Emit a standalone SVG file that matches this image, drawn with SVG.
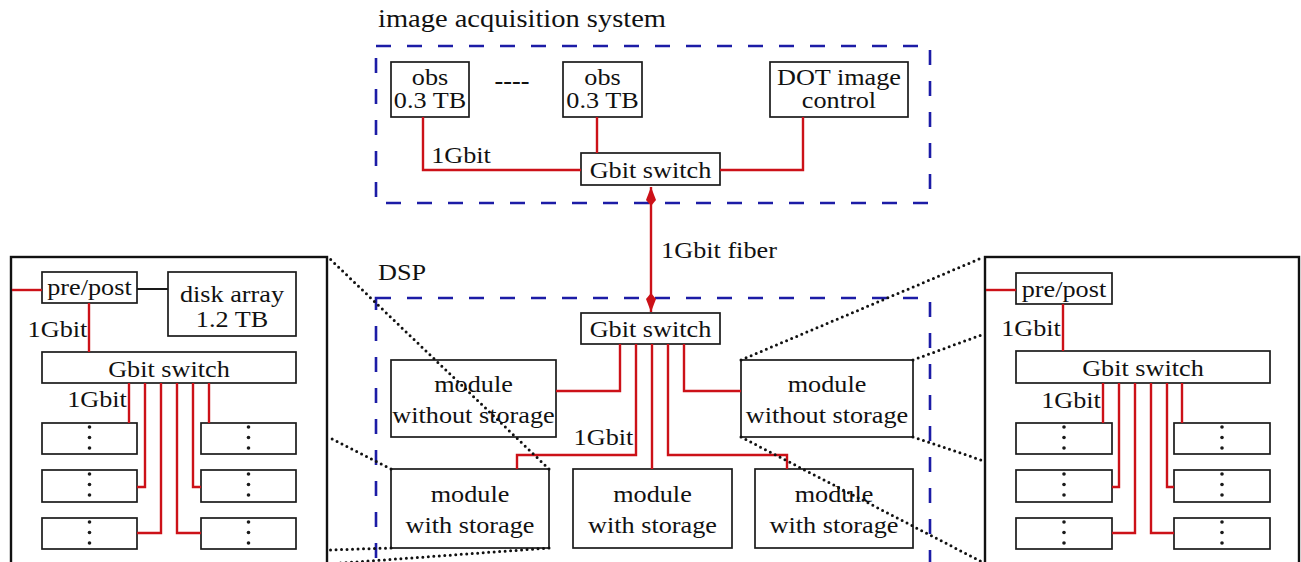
<svg xmlns="http://www.w3.org/2000/svg" width="1301" height="562" viewBox="0 0 1301 562">
  <style>
    .box { fill: #fff; stroke: #1a1a1a; stroke-width: 1.7; }
    .frame { fill: none; stroke: #111; stroke-width: 2.4; }
    .dash { fill: none; stroke: #1c1ca6; stroke-width: 2.6; stroke-dasharray: 15 16; }
    .link { fill: none; stroke: #cc1118; stroke-width: 2.4; }
    .blk { fill: none; stroke: #1a1a1a; stroke-width: 2; }
    .zoom { fill: none; stroke: #111; stroke-width: 3; stroke-linecap: round; stroke-dasharray: 0 5.5; }
    .t { font-family: "Liberation Serif", "Times New Roman", serif; font-size: 23px; fill: #111; text-anchor: middle;
         transform: scaleX(1.14); transform-box: fill-box; transform-origin: center; }
    .big { font-size: 25px; }
    .vd { fill: #1a1a1a; }
  </style>
  <defs>
    <marker id="kite" viewBox="-20 -6 21 12" refX="0" refY="0" markerWidth="21" markerHeight="12" markerUnits="userSpaceOnUse" orient="auto-start-reverse">
      <path d="M0,0 L-13,-5 L-19,0 L-13,5 Z" fill="#cc1118"/>
    </marker>
    <g id="vdots">
      <circle class="vd" cx="0" cy="4" r="1.8"/>
      <circle class="vd" cx="0" cy="14.5" r="1.8"/>
      <circle class="vd" cx="0" cy="25" r="1.8"/>
    </g>
  </defs>

  <rect width="1301" height="562" fill="#fff"/>

  <!-- image acquisition system -->
  <g id="acquisition">
    <text class="t big" x="522" y="27">image acquisition system</text>
    <rect class="dash" x="376" y="46" width="554" height="157"/>
  </g>
  <g id="obs1">
    <rect class="box" x="391" y="62" width="78" height="55"/>
    <text class="t" x="430" y="85">obs</text>
    <text class="t" x="430" y="108">0.3 TB</text>
  </g>
  <g id="obs-ellipsis">
    <text class="t" x="512" y="89" font-weight="bold" font-size="26">----</text>
  </g>
  <g id="obs2">
    <rect class="box" x="563" y="62" width="79" height="55"/>
    <text class="t" x="602.5" y="85">obs</text>
    <text class="t" x="602.5" y="108">0.3 TB</text>
  </g>
  <g id="dot-control">
    <rect class="box" x="770" y="62" width="138" height="55"/>
    <text class="t" x="839" y="85">DOT image</text>
    <text class="t" x="839" y="108">control</text>
  </g>
  <g id="switch-top">
    <rect class="box" x="581" y="153" width="139" height="32"/>
    <text class="t" x="650.5" y="178">Gbit switch</text>
  </g>

  <!-- DSP -->
  <g id="dsp">
    <text class="t" x="402" y="280">DSP</text>
    <rect class="dash" x="376" y="298" width="554" height="320"/>
  </g>
  <g id="switch-dsp">
    <rect class="box" x="581" y="313" width="139" height="31"/>
    <text class="t" x="650.5" y="337">Gbit switch</text>
  </g>
  <g id="module-nostore-left">
    <rect class="box" x="391" y="360" width="165" height="77"/>
    <text class="t" x="473.5" y="392">module</text>
    <text class="t" x="473.5" y="423">without storage</text>
  </g>
  <g id="module-nostore-right">
    <rect class="box" x="741" y="360" width="172" height="77"/>
    <text class="t" x="827" y="392">module</text>
    <text class="t" x="827" y="423">without storage</text>
  </g>
  <g id="module-store-1">
    <rect class="box" x="391" y="469" width="158" height="79"/>
    <text class="t" x="470" y="502">module</text>
    <text class="t" x="470" y="533">with storage</text>
  </g>
  <g id="module-store-2">
    <rect class="box" x="573" y="469" width="159" height="79"/>
    <text class="t" x="652.5" y="502">module</text>
    <text class="t" x="652.5" y="533">with storage</text>
  </g>
  <g id="module-store-3">
    <rect class="box" x="755" y="469" width="158" height="79"/>
    <text class="t" x="834" y="502">module</text>
    <text class="t" x="834" y="533">with storage</text>
  </g>

  <!-- detail: module with storage -->
  <g id="detail-storage">
    <rect class="frame" x="11" y="257" width="316" height="400"/>
    <rect class="box" x="42" y="272" width="95" height="31"/>
    <text class="t" x="89.5" y="295">pre/post</text>
    <rect class="box" x="168" y="272" width="128" height="64"/>
    <text class="t" x="232" y="302">disk array</text>
    <text class="t" x="232" y="327">1.2 TB</text>
    <rect class="box" x="42" y="352" width="254" height="31"/>
    <text class="t" x="169" y="377">Gbit switch</text>
    <rect class="box" x="42" y="423" width="95" height="31"/>
    <rect class="box" x="42" y="470" width="95" height="32"/>
    <rect class="box" x="42" y="518" width="95" height="31"/>
    <rect class="box" x="201" y="423" width="95" height="31"/>
    <rect class="box" x="201" y="470" width="95" height="32"/>
    <rect class="box" x="201" y="518" width="95" height="31"/>
    <use href="#vdots" x="89.5" y="423"/>
    <use href="#vdots" x="89.5" y="470"/>
    <use href="#vdots" x="89.5" y="518"/>
    <use href="#vdots" x="248.5" y="423"/>
    <use href="#vdots" x="248.5" y="470"/>
    <use href="#vdots" x="248.5" y="518"/>
  </g>

  <!-- detail: module without storage -->
  <g id="detail-nostorage">
    <rect class="frame" x="985" y="257" width="314" height="400"/>
    <rect class="box" x="1016" y="273" width="96" height="31"/>
    <text class="t" x="1064" y="297">pre/post</text>
    <rect class="box" x="1016" y="351" width="254" height="32"/>
    <text class="t" x="1143" y="376">Gbit switch</text>
    <rect class="box" x="1016" y="423" width="96" height="31"/>
    <rect class="box" x="1016" y="470" width="96" height="32"/>
    <rect class="box" x="1016" y="518" width="96" height="31"/>
    <rect class="box" x="1174" y="423" width="96" height="31"/>
    <rect class="box" x="1174" y="470" width="96" height="32"/>
    <rect class="box" x="1174" y="518" width="96" height="31"/>
    <use href="#vdots" x="1064" y="423"/>
    <use href="#vdots" x="1064" y="470"/>
    <use href="#vdots" x="1064" y="518"/>
    <use href="#vdots" x="1222" y="423"/>
    <use href="#vdots" x="1222" y="470"/>
    <use href="#vdots" x="1222" y="518"/>
  </g>

  <!-- network links -->
  <g id="connectors">
    <path class="link" d="M423,117 V170 H581"/>
    <path class="link" d="M597,117 V153"/>
    <path class="link" d="M803,117 V170 H720"/>
    <text class="t" x="461" y="163">1Gbit</text>

    <path class="link" d="M651,187 V312" marker-start="url(#kite)" marker-end="url(#kite)"/>
    <text class="t" x="719" y="258">1Gbit fiber</text>

    <path class="link" d="M620,344 V391 H556"/>
    <path class="link" d="M636,344 V455 H517 V469"/>
    <path class="link" d="M652,344 V469"/>
    <path class="link" d="M668,344 V455 H787 V469"/>
    <path class="link" d="M684,344 V391 H741"/>
    <text class="t" x="603.5" y="445">1Gbit</text>

    <path class="link" d="M12,290 H42"/>
    <path class="blk" d="M137,289 H168"/>
    <path class="link" d="M89,303 V352"/>
    <text class="t" x="57.5" y="337">1Gbit</text>
    <path class="link" d="M129,383 V423"/>
    <path class="link" d="M145,383 V487 H137"/>
    <path class="link" d="M161,383 V533 H137"/>
    <path class="link" d="M177,383 V533 H201"/>
    <path class="link" d="M193,383 V487 H201"/>
    <path class="link" d="M209,383 V423"/>
    <text class="t" x="97" y="407">1Gbit</text>

    <path class="link" d="M986,290 H1016"/>
    <path class="link" d="M1063,304 V351"/>
    <text class="t" x="1031" y="336">1Gbit</text>
    <path class="link" d="M1103,383 V423"/>
    <path class="link" d="M1119,383 V487 H1112"/>
    <path class="link" d="M1135,383 V533 H1112"/>
    <path class="link" d="M1151,383 V533 H1174"/>
    <path class="link" d="M1167,383 V487 H1174"/>
    <path class="link" d="M1182,383 V423"/>
    <text class="t" x="1071" y="408">1Gbit</text>
  </g>

  <!-- zoom guides from modules to their detail views -->
  <g id="zoom-guides">
    <path class="zoom" d="M549,469 L328,257"/>
    <path class="zoom" d="M391,469 L328,437"/>
    <path class="zoom" d="M391,548 L328,550"/>
    <path class="zoom" d="M549,548 L328,564"/>
    <path class="zoom" d="M741,360 L984,257"/>
    <path class="zoom" d="M913,360 L984,334"/>
    <path class="zoom" d="M913,437 L984,461"/>
    <path class="zoom" d="M741,437 L984,563"/>
  </g>
</svg>
